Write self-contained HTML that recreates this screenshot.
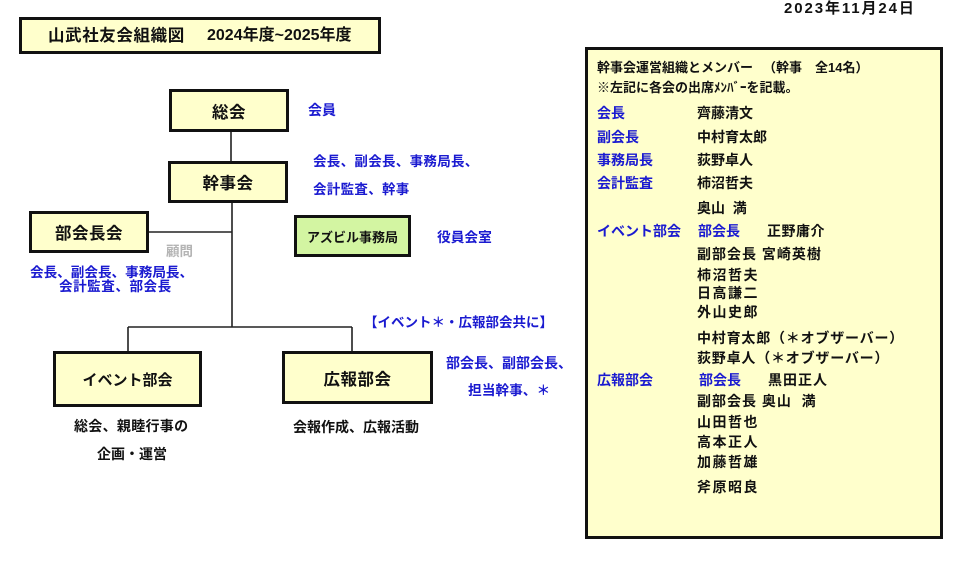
<!DOCTYPE html>
<html><head><meta charset="utf-8">
<style>
html,body{margin:0;padding:0;background:#fff;}
body{width:977px;height:569px;position:relative;overflow:hidden;font-family:"Liberation Sans","Noto Sans CJK JP",sans-serif;font-weight:bold;color:#111;}
.t{position:absolute;white-space:nowrap;line-height:20px;height:20px;}
.b{color:#1a1ad0;}
.box{position:absolute;box-sizing:border-box;border:3px solid #111;background:#ffffcc;display:flex;align-items:center;justify-content:center;white-space:nowrap;}
svg{position:absolute;left:0;top:0;}
</style></head><body>
<svg width="977" height="569">
<g stroke="#222" stroke-width="1.6" fill="none">
<line x1="231" y1="131" x2="231" y2="162"/>
<line x1="232" y1="202" x2="232" y2="327"/>
<line x1="149" y1="232" x2="232" y2="232"/>
<line x1="128" y1="327" x2="352" y2="327"/>
<line x1="128" y1="327" x2="128" y2="352"/>
<line x1="352" y1="327" x2="352" y2="352"/>
</g>
</svg>

<!-- title -->
<div class="box" style="left:19px;top:17px;width:362px;height:37px;justify-content:flex-start;"></div>
<div class="t" style="left:48px;top:26px;font-size:16.5px;letter-spacing:0.6px;">山武社友会組織図</div>
<div class="t" style="left:207px;top:26px;font-size:16px;">2024年度~2025年度</div>

<div class="t" style="left:784px;top:-1px;font-size:15px;letter-spacing:1.9px;">2023年11月24日</div>

<!-- boxes -->
<div class="box" style="left:169px;top:89px;width:120px;height:43px;font-size:16.5px;letter-spacing:0.5px;">総会</div>
<div class="box" style="left:168px;top:161px;width:120px;height:42px;font-size:16.5px;letter-spacing:0.5px;">幹事会</div>
<div class="box" style="left:29px;top:211px;width:120px;height:42px;font-size:16.5px;letter-spacing:0.5px;">部会長会</div>
<div class="box" style="left:294px;top:215px;width:117px;height:42px;font-size:13px;background:#d3f5a2;">アズビル事務局</div>
<div class="box" style="left:53px;top:351px;width:149px;height:56px;font-size:15px;">イベント部会</div>
<div class="box" style="left:282px;top:351px;width:151px;height:53px;font-size:16.5px;letter-spacing:0.5px;">広報部会</div>

<!-- blue labels -->
<div class="t b" style="left:308px;top:100px;font-size:14px;">会員</div>
<div class="t b" style="left:313px;top:152px;font-size:13.5px;letter-spacing:0.3px;">会長、副会長、事務局長、</div>
<div class="t b" style="left:313px;top:180px;font-size:13.5px;letter-spacing:0.3px;">会計監査、幹事</div>
<div class="t b" style="left:437px;top:228px;font-size:13.7px;">役員会室</div>
<div class="t" style="left:166px;top:242px;font-size:13.5px;color:#b4b4b4;">顧問</div>
<div class="t b" style="left:30px;top:263px;font-size:13.6px;">会長、副会長、事務局長、</div>
<div class="t b" style="left:59px;top:277px;font-size:13.6px;letter-spacing:0.5px;">会計監査、部会長</div>
<div class="t b" style="left:364px;top:313px;font-size:13.5px;">【イベント＊・広報部会共に】</div>
<div class="t b" style="left:446px;top:353px;font-size:14px;">部会長、副部会長、</div>
<div class="t b" style="left:468px;top:381px;font-size:13.7px;">担当幹事、＊</div>

<!-- black labels -->
<div class="t" style="left:74px;top:416px;font-size:14px;letter-spacing:0.3px;">総会、親睦行事の</div>
<div class="t" style="left:97px;top:444px;font-size:14px;">企画・運営</div>
<div class="t" style="left:293px;top:417px;font-size:14px;">会報作成、広報活動</div>

<!-- right panel -->
<div class="box" style="left:585px;top:47px;width:358px;height:492px;"></div>
<div class="t" style="left:597px;top:58px;font-size:13px;">幹事会運営組織とメンバー</div>
<div class="t" style="left:763px;top:58px;font-size:13px;">（幹事</div>
<div class="t" style="left:815px;top:58px;font-size:13px;">全14名）</div>
<div class="t" style="left:597px;top:78px;font-size:13px;">※左記に各会の出席ﾒﾝﾊﾞｰを記載。</div>

<div class="t b" style="left:597px;top:103px;font-size:14px;">会長</div>
<div class="t" style="left:697px;top:103px;font-size:14px;">齊藤清文</div>
<div class="t b" style="left:597px;top:127px;font-size:14px;">副会長</div>
<div class="t" style="left:697px;top:127px;font-size:14px;">中村育太郎</div>
<div class="t b" style="left:597px;top:150px;font-size:14px;">事務局長</div>
<div class="t" style="left:697px;top:150px;font-size:14px;">荻野卓人</div>
<div class="t b" style="left:597px;top:173px;font-size:14px;">会計監査</div>
<div class="t" style="left:697px;top:173px;font-size:14px;">柿沼哲夫</div>
<div class="t" style="left:697px;top:198px;font-size:14px;">奥山&nbsp;&nbsp;満</div>

<div class="t b" style="left:597px;top:221px;font-size:14px;">イベント部会</div>
<div class="t b" style="left:698px;top:221px;font-size:14px;">部会長</div>
<div class="t" style="left:767px;top:221px;font-size:14px;letter-spacing:0.5px;">正野庸介</div>
<div class="t" style="left:697px;top:244px;font-size:14px;letter-spacing:1px;">副部会長 宮崎英樹</div>
<div class="t" style="left:697px;top:265px;font-size:14px;letter-spacing:1.5px;">柿沼哲夫</div>
<div class="t" style="left:697px;top:283px;font-size:14px;letter-spacing:1.5px;">日高謙二</div>
<div class="t" style="left:697px;top:302px;font-size:14px;letter-spacing:1.5px;">外山史郎</div>
<div class="t" style="left:697px;top:328px;font-size:14px;letter-spacing:0.8px;">中村育太郎（＊オブザーバー）</div>
<div class="t" style="left:697px;top:348px;font-size:14px;letter-spacing:0.8px;">荻野卓人（＊オブザーバー）</div>

<div class="t b" style="left:597px;top:370px;font-size:14px;">広報部会</div>
<div class="t b" style="left:699px;top:370px;font-size:14px;">部会長</div>
<div class="t" style="left:768px;top:370px;font-size:14px;letter-spacing:1px;">黒田正人</div>
<div class="t" style="left:697px;top:391px;font-size:14px;letter-spacing:1px;">副部会長 奥山&nbsp;&nbsp;満</div>
<div class="t" style="left:697px;top:412px;font-size:14px;letter-spacing:1.5px;">山田哲也</div>
<div class="t" style="left:697px;top:432px;font-size:14px;letter-spacing:1.5px;">高本正人</div>
<div class="t" style="left:697px;top:452px;font-size:14px;letter-spacing:1.5px;">加藤哲雄</div>
<div class="t" style="left:697px;top:477px;font-size:14px;letter-spacing:1.5px;">斧原昭良</div>
</body></html>
